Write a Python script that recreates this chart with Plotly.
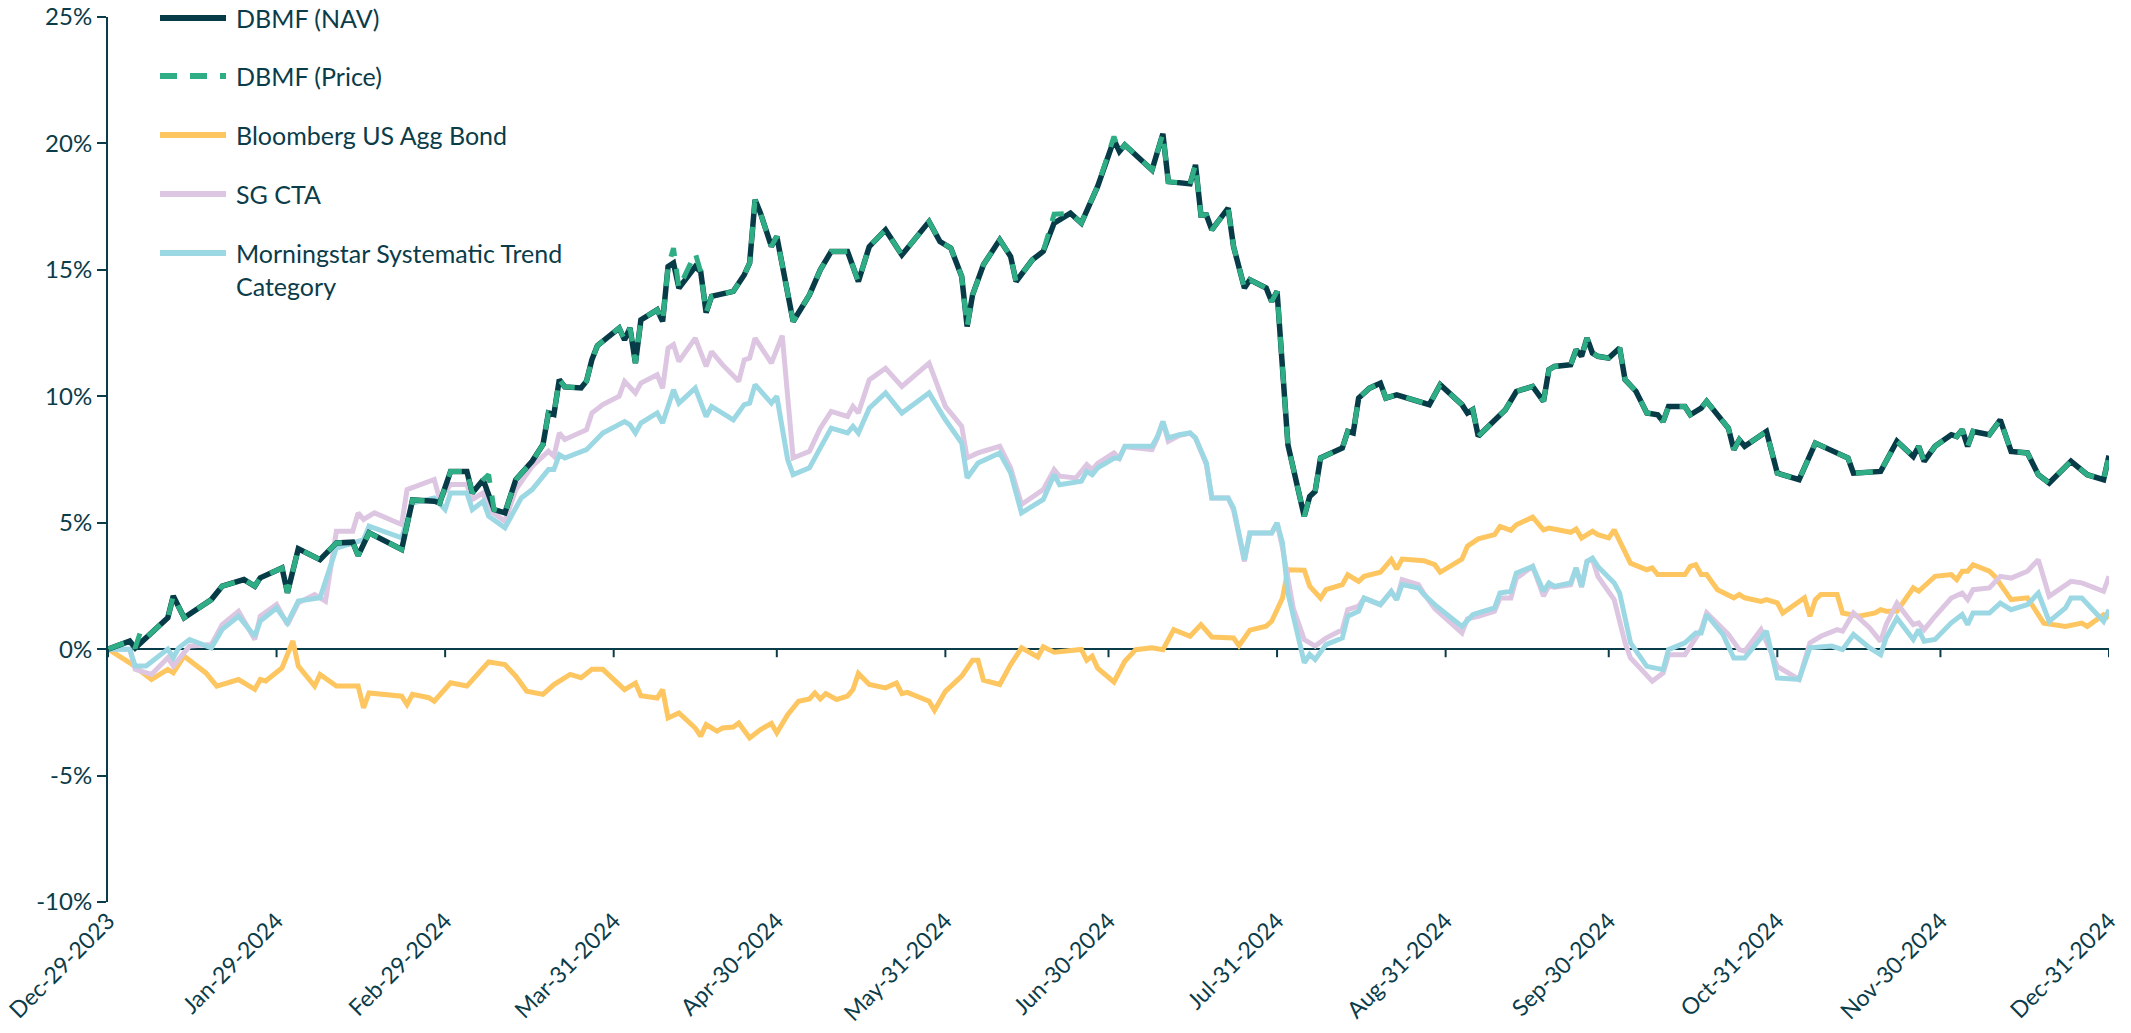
import pandas as pd
import plotly.graph_objects as go

START = "2023-12-29"

# ---- DBMF (NAV): day offset from Dec-29-2023, cumulative return (%)
nav_days = [0, 4, 5, 7, 11, 12, 14, 19, 21, 25, 27, 28, 32, 33, 35, 39, 42, 45, 46, 48, 54, 56, 60, 61, 63,
            66, 67, 69, 71, 73, 75, 78, 80, 81, 82, 83, 84, 87, 88, 89, 90, 94, 95, 96, 97, 98, 101, 102,
            103, 104, 105, 108, 109, 110, 111, 115, 117, 118, 119, 120, 122, 123, 125, 126, 129, 131, 133,
            136, 138, 140, 143, 146, 151, 153, 155, 157, 158, 159, 161, 164, 166, 167, 170, 172, 174, 177,
            179, 181, 182, 185, 186, 187, 192, 194, 195, 199, 200, 201, 202, 203, 206, 207, 208, 209, 210,
            213, 214, 215, 217, 220, 221, 222, 223, 227, 228, 229, 230, 232, 234, 235, 237, 243, 245, 249,
            250, 251, 252, 255, 257, 259, 262, 264, 265, 266, 269, 270, 271, 272, 273, 274, 276, 278, 279,
            281, 283, 285, 286, 287, 290, 291, 293, 294, 296, 298, 299, 300, 301, 305, 307, 311, 314, 318,
            320, 321, 326, 329, 332, 333, 334, 336, 339, 340, 341, 342, 343, 346, 348, 350, 353, 355, 357,
            361, 364, 367, 368]
nav_values = [0.0, 0.32, 0.05, 0.45, 1.24, 2.1, 1.24, 1.96, 2.49, 2.75, 2.49, 2.82, 3.21, 2.23, 3.97, 3.54,
              4.2, 4.23, 3.7, 4.6, 3.94, 5.9, 5.85, 5.78, 7.03, 7.03, 6.18, 6.7, 5.52, 5.39, 6.7, 7.43, 8.09,
              9.34, 9.28, 10.66, 10.37, 10.33, 10.6, 11.45, 12.0, 12.7, 12.23, 12.7, 11.31, 13.02, 13.42,
              12.96, 15.13, 15.27, 14.28, 15.13, 14.93, 13.31, 13.95, 14.15, 14.8, 15.27, 17.77, 17.24,
              15.93, 16.32, 14.08, 12.96, 14.01, 15.0, 15.73, 15.73, 14.54, 15.92, 16.58, 15.59, 16.91,
              16.12, 15.86, 14.74, 12.76, 14.01, 15.2, 16.19, 15.53, 14.54, 15.4, 15.73, 16.85, 17.24,
              16.85, 17.77, 18.3, 20.14, 19.68, 19.94, 18.95, 20.38, 18.49, 18.4, 19.15, 17.17, 17.17,
              16.58, 17.44, 15.92, 15.13, 14.28, 14.61, 14.28, 13.75, 14.15, 8.08, 5.25, 6.04, 6.24, 7.56,
              7.95, 8.61, 8.55, 9.93, 10.32, 10.52, 9.93, 10.06, 9.67, 10.46, 9.67, 9.34, 9.47, 8.42, 9.01,
              9.47, 10.19, 10.39, 9.8, 11.05, 11.18, 11.25, 11.84, 11.58, 12.3, 11.71, 11.58, 11.51, 11.91,
              10.66, 10.2, 9.34, 9.27, 9.0, 9.6, 9.6, 9.27, 9.53, 9.8, 9.27, 8.74, 7.89, 8.28, 8.02, 8.61,
              6.96, 6.7, 8.15, 7.76, 7.56, 6.96, 7.03, 8.22, 7.62, 8.02, 7.43, 8.02, 8.48, 8.41, 8.68, 8.02,
              8.61, 8.48, 9.07, 7.82, 7.76, 6.9, 6.57, 7.43, 6.9, 6.7, 7.65]

# ---- DBMF (Price): same path as NAV except where the market price visibly diverged
price_diffs = {6: 0.70, 70: 6.90, 104: 15.86, 108: 15.66, 174: 17.20, 185: 20.27}

# ---- Bloomberg US Agg Bond
agg_days = [0, 4, 8, 11, 12, 14, 18, 20, 24, 27, 28, 29, 32, 34, 35, 38, 39, 42, 46, 47, 48, 54, 55, 56,
            59, 60, 63, 66, 69, 70, 73, 75, 77, 80, 82, 85, 87, 89, 91, 95, 97, 98, 101, 102, 103, 105,
            108, 109, 110, 112, 113, 115, 116, 118, 120, 122, 123, 125, 127, 129, 130, 131, 132, 134, 136,
            137, 138, 140, 143, 145, 146, 147, 151, 152, 154, 157, 159, 160, 161, 164, 166, 168, 171, 172,
            174, 179, 180, 181, 182, 185, 187, 189, 192, 194, 196, 199, 201, 203, 207, 208, 210, 213, 214,
            216, 217, 220, 221, 223, 224, 227, 228, 230, 231, 234, 236, 237, 238, 242, 244, 245, 249, 250,
            252, 255, 256, 258, 259, 262, 264, 265, 269, 270, 271, 273, 274, 276, 277, 278, 280, 283, 284,
            285, 290, 291, 292, 293, 294, 296, 299, 300, 301, 304, 305, 307, 308, 312, 313, 314, 315, 318,
            319, 322, 325, 326, 327, 329, 332, 333, 336, 339, 340, 341, 342, 343, 346, 347, 350, 353, 354,
            356, 360, 363, 364, 367, 368]
agg_values = [0.0, -0.54, -1.2, -0.8, -0.94, -0.28, -0.94, -1.46, -1.2, -1.59, -1.2, -1.26, -0.74, 0.32,
              -0.67, -1.46, -1.0, -1.46, -1.46, -2.32, -1.73, -1.86, -2.19, -1.79, -1.92, -2.06, -1.33,
              -1.46, -0.74, -0.51, -0.61, -1.07, -1.66, -1.79, -1.4, -1.0, -1.13, -0.8, -0.8, -1.6, -1.34,
              -1.84, -1.93, -1.6, -2.72, -2.52, -3.12, -3.44, -2.98, -3.24, -3.12, -3.08, -2.92, -3.51,
              -3.18, -2.94, -3.31, -2.59, -2.06, -1.97, -1.73, -1.97, -1.76, -1.99, -1.86, -1.6, -0.96,
              -1.4, -1.53, -1.34, -1.76, -1.71, -2.06, -2.42, -1.67, -1.07, -0.44, -0.44, -1.23, -1.4,
              -0.61, 0.05, -0.31, 0.09, -0.12, -0.01, -0.44, -0.28, -0.75, -1.3, -0.48, -0.02, 0.05, -0.02,
              0.77, 0.51, 0.97, 0.48, 0.44, 0.14, 0.75, 0.91, 1.1, 2.02, 3.14, 3.12, 2.49, 2.02, 2.35, 2.55,
              2.94, 2.68, 2.88, 3.04, 3.54, 3.17, 3.56, 3.5, 3.34, 3.04, 3.56, 4.07, 4.36, 4.53, 4.85, 4.7,
              4.92, 5.22, 4.72, 4.79, 4.62, 4.75, 4.39, 4.66, 4.53, 4.4, 4.72, 4.26, 3.4, 3.14, 3.21, 2.95,
              2.95, 3.27, 3.34, 2.95, 2.95, 2.35, 2.03, 2.16, 2.03, 1.89, 1.96, 1.83, 1.43, 2.03, 1.3, 1.96,
              2.16, 2.16, 1.43, 1.3, 1.43, 1.56, 1.5, 1.5, 2.42, 2.29, 2.88, 2.95, 2.75, 3.08, 3.08, 3.34,
              3.08, 2.88, 1.96, 2.03, 1.69, 1.03, 0.9, 1.03, 0.9, 1.36, 1.23]

# ---- SG CTA
sg_days = [0, 4, 5, 8, 11, 12, 14, 15, 19, 21, 24, 27, 28, 31, 33, 35, 38, 40, 42, 45, 46, 47, 49, 54, 55,
           60, 61, 63, 66, 67, 69, 70, 73, 75, 78, 81, 82, 83, 84, 88, 89, 91, 94, 95, 97, 98, 101, 102,
           103, 104, 105, 108, 110, 111, 113, 116, 117, 118, 119, 122, 124, 126, 129, 131, 133, 136, 137,
           138, 140, 143, 146, 151, 154, 157, 158, 160, 164, 166, 168, 172, 174, 175, 178, 180, 181, 182,
           185, 186, 187, 192, 193, 194, 195, 197, 199, 200, 202, 203, 206, 207, 209, 210, 214, 215, 216,
           218, 220, 222, 224, 227, 228, 230, 231, 234, 236, 237, 238, 241, 242, 244, 249, 250, 252, 255,
           256, 258, 259, 262, 264, 265, 266, 269, 270, 271, 272, 273, 274, 277, 279, 280, 284, 286, 287,
           290, 293, 294, 298, 300, 301, 304, 307, 311, 313, 315, 318, 319, 321, 324, 326, 327, 329, 332,
           333, 334, 336, 339, 341, 342, 343, 346, 348, 350, 353, 355, 357, 361, 363, 367, 368]
sg_values = [0.0, 0.0, -0.8, -1.0, -0.34, -0.67, -0.14, 0.12, 0.18, 0.97, 1.5, 0.38, 1.3, 1.77, 0.97, 1.83,
             2.16, 1.9, 4.66, 4.66, 5.39, 5.13, 5.39, 4.93, 6.31, 6.71, 5.92, 6.51, 6.51, 5.92, 6.18, 5.52,
             5.06, 6.31, 7.23, 7.83, 7.63, 8.55, 8.29, 8.68, 9.34, 9.67, 10.0, 10.59, 10.13, 10.52, 10.85,
             10.32, 11.9, 12.04, 11.38, 12.3, 11.18, 11.77, 11.25, 10.59, 11.44, 11.51, 12.3, 11.31, 12.4,
             7.56, 7.82, 8.74, 9.4, 9.2, 9.6, 9.34, 10.65, 11.11, 10.39, 11.31, 9.6, 8.81, 7.56, 7.76, 8.02,
             7.17, 5.72, 6.31, 7.1, 6.84, 6.77, 7.3, 7.1, 7.35, 7.76, 7.55, 8.0, 7.89, 8.35, 9.0, 8.22, 8.45,
             8.55, 8.35, 7.3, 5.98, 5.98, 5.5, 3.47, 4.59, 4.59, 4.99, 4.0, 1.6, 0.38, 0.12, 0.44, 0.77,
             1.56, 1.7, 2.02, 1.76, 2.28, 1.96, 2.75, 2.55, 2.2, 1.6, 0.64, 1.2, 1.3, 1.5, 2.02, 2.02, 2.8,
             3.27, 2.1, 2.5, 2.45, 2.55, 3.21, 2.45, 3.47, 3.55, 2.88, 1.96, 0.25, -0.35, -1.27, -0.94,
             -0.22, -0.22, 0.77, 1.43, 0.58, -0.02, -0.08, 0.77, -0.68, -1.2, 0.25, 0.51, 0.77, 0.71, 1.43,
             0.84, 0.31, 0.97, 1.82, 0.97, 1.04, 0.77, 1.3, 2.02, 2.22, 1.96, 2.35, 2.42, 2.88, 2.81, 3.08,
             3.54, 2.09, 2.68, 2.62, 2.29, 2.88]

# ---- Morningstar Systematic Trend Category
ms_days = [0, 4, 5, 7, 11, 12, 13, 15, 19, 21, 24, 27, 28, 31, 33, 35, 39, 42, 47, 48, 54, 56, 60, 62, 63,
           66, 67, 69, 70, 73, 76, 78, 81, 82, 83, 84, 88, 91, 95, 96, 97, 98, 101, 102, 104, 105, 108,
           110, 111, 113, 115, 117, 118, 119, 122, 123, 125, 126, 129, 131, 133, 136, 137, 138, 140, 143,
           146, 151, 154, 157, 158, 160, 164, 166, 168, 172, 174, 175, 179, 180, 181, 182, 185, 186, 187,
           192, 193, 194, 195, 197, 199, 200, 202, 203, 206, 207, 209, 210, 214, 215, 216, 217, 220, 221,
           222, 224, 227, 228, 230, 231, 234, 236, 237, 238, 241, 242, 244, 249, 251, 252, 255, 256, 258,
           259, 262, 264, 265, 266, 269, 270, 271, 272, 273, 274, 277, 278, 280, 283, 286, 287, 290, 292,
           293, 294, 297, 299, 301, 305, 307, 311, 313, 317, 319, 321, 324, 326, 327, 329, 332, 333, 334,
           336, 339, 341, 342, 343, 346, 348, 350, 353, 355, 357, 360, 361, 363, 367, 368]
ms_values = [0.0, 0.0, -0.67, -0.67, 0.0, -0.34, 0.05, 0.38, 0.05, 0.78, 1.3, 0.51, 1.11, 1.63, 1.04, 1.9,
             2.03, 4.0, 4.33, 4.86, 4.4, 5.78, 5.98, 5.52, 6.18, 6.18, 5.52, 5.85, 5.26, 4.8, 5.98, 6.31,
             7.1, 7.1, 7.69, 7.56, 7.89, 8.55, 9.0, 8.87, 8.55, 8.94, 9.34, 8.94, 10.26, 9.73, 10.32, 9.2,
             9.6, 9.34, 9.07, 9.67, 9.73, 10.46, 9.73, 10.0, 7.49, 6.9, 7.17, 7.96, 8.74, 8.55, 8.81, 8.55,
             9.53, 10.13, 9.34, 10.13, 9.07, 8.15, 6.77, 7.36, 7.76, 6.97, 5.39, 5.92, 6.9, 6.5, 6.64, 7.03,
             6.9, 7.17, 7.55, 7.55, 8.02, 8.02, 8.41, 9.0, 8.35, 8.48, 8.55, 8.35, 7.36, 5.98, 5.98, 5.58,
             3.54, 4.59, 4.59, 4.99, 4.2, 2.22, -0.54, -0.21, -0.41, 0.18, 0.44, 1.3, 1.5, 2.02, 1.76, 2.28,
             1.96, 2.55, 2.42, 2.16, 1.76, 0.9, 1.36, 1.43, 1.63, 2.22, 2.29, 3.01, 3.27, 2.29, 2.62, 2.48,
             2.62, 3.21, 2.48, 3.47, 3.6, 3.27, 2.62, 2.22, 0.25, -0.68, -0.81, -0.02, 0.25, 0.64, 0.64,
             1.36, 0.58, -0.35, -0.35, 0.71, -1.14, -1.2, 0.05, 0.12, -0.02, 0.58, 0.05, -0.22, 0.44, 1.23,
             0.38, 0.77, 0.31, 0.38, 1.04, 1.37, 0.97, 1.43, 1.43, 1.82, 1.56, 1.76, 2.22, 1.1, 1.63, 2.02,
             2.02, 1.1, 1.56]

# ---- axis ticks
x_tick_dates = ["2023-12-29", "2024-01-29", "2024-02-29", "2024-03-31", "2024-04-30", "2024-05-31",
                "2024-06-30", "2024-07-31", "2024-08-31", "2024-09-30", "2024-10-31", "2024-11-30",
                "2024-12-31"]
y_ticks = [-10, -5, 0, 5, 10, 15, 20, 25]

series_names = ["DBMF (NAV)", "DBMF (Price)", "Bloomberg US Agg Bond", "SG CTA",
                "Morningstar Systematic Trend<br>Category"]

# ---- styles
TEXT = "#0B3C49"
C_NAV = "#063B47"
C_PRICE = "#2FAE86"
C_AGG = "#FDC660"
C_SG = "#DDC6E1"
C_MS = "#9CD8E3"
FONT = "Lato"
DASH = "17px,13px"


def to_dates(days):
    return pd.Timestamp(START) + pd.to_timedelta(days, unit="D")


price_map = dict(zip(nav_days, nav_values))
price_map.update(price_diffs)
price_days = sorted(price_map)
price_values = [price_map[d] for d in price_days]

fig = go.Figure()
fig.add_trace(go.Scatter(x=to_dates(agg_days), y=agg_values, mode="lines", name=series_names[2],
                         line=dict(color=C_AGG, width=5), showlegend=False))
fig.add_trace(go.Scatter(x=to_dates(sg_days), y=sg_values, mode="lines", name=series_names[3],
                         line=dict(color=C_SG, width=5), showlegend=False))
fig.add_trace(go.Scatter(x=to_dates(ms_days), y=ms_values, mode="lines", name=series_names[4],
                         line=dict(color=C_MS, width=5), showlegend=False))
fig.add_trace(go.Scatter(x=to_dates(nav_days), y=nav_values, mode="lines", name=series_names[0],
                         line=dict(color=C_NAV, width=5.5), showlegend=False))
fig.add_trace(go.Scatter(x=to_dates(price_days), y=price_values, mode="lines", name=series_names[1],
                         line=dict(color=C_PRICE, width=5, dash=DASH), showlegend=False))

W, H = 2131, 1033
PL, PR, PT, PB = 108, 2109, 17, 902          # plot-area edges in window pixels
ML, MT = PL, PT
MR, MB = W - PR, H - PB
pw, ph = W - ML - MR, H - MT - MB


def px_x(p):
    return (p - PL) / pw


def px_y(p):
    return (PB - p) / ph


shapes = []
# tick marks hanging below the zero line
for d in x_tick_dates:
    shapes.append(dict(type="line", xref="x", yref="y", x0=d, x1=d, y0=0, y1=-0.32,
                       line=dict(color=TEXT, width=2)))

# manual legend (line sample + label)
legend_items = [
    (series_names[0], C_NAV, "solid", 18),
    (series_names[1], C_PRICE, DASH, 76),
    (series_names[2], C_AGG, "solid", 135),
    (series_names[3], C_SG, "solid", 194),
    (series_names[4], C_MS, "solid", 253),
]
annotations = []
for name, col, dash, yp in legend_items:
    shapes.append(dict(type="line", xref="paper", yref="paper", x0=px_x(160), x1=px_x(226),
                       y0=px_y(yp), y1=px_y(yp), line=dict(color=col, width=6, dash=dash)))
    if "<br>" in name:
        annotations.append(dict(xref="paper", yref="paper", x=px_x(234), y=px_y(yp - 17), text=name,
                                showarrow=False, xanchor="left", yanchor="top", align="left",
                                font=dict(family=FONT, size=25, color=TEXT)))
    else:
        annotations.append(dict(xref="paper", yref="paper", x=px_x(234), y=px_y(yp), text=name,
                                showarrow=False, xanchor="left", yanchor="middle", align="left",
                                font=dict(family=FONT, size=25, color=TEXT)))

fig.update_layout(
    width=W, height=H,
    margin=dict(l=ML, r=MR, t=MT, b=MB, pad=0, autoexpand=False),
    paper_bgcolor="white", plot_bgcolor="white",
    font=dict(family=FONT, size=20, color=TEXT),
    shapes=shapes, annotations=annotations,
    showlegend=False,
)
fig.update_xaxes(
    type="date", range=[x_tick_dates[0], x_tick_dates[-1]],
    tickvals=x_tick_dates,
    ticktext=[pd.Timestamp(d).strftime("%b-%d-%Y") for d in x_tick_dates],
    tickangle=-45, showgrid=False, showline=False, ticks="", zeroline=False, automargin=False,
    ticklabeloverflow="allow",
    tickfont=dict(family=FONT, size=23, color=TEXT),
)
fig.update_yaxes(
    range=[-10, 25], tickvals=y_ticks, ticktext=[f"{v}%" for v in y_ticks],
    showgrid=False, showline=True, linecolor=TEXT, linewidth=2, automargin=False,
    ticklabeloverflow="allow",
    ticks="outside", ticklen=9, tickwidth=2, tickcolor=TEXT,
    zeroline=True, zerolinecolor=TEXT, zerolinewidth=2,
    tickfont=dict(family=FONT, size=24, color=TEXT),
)

# remove the browser's default 8px page margin so the figure fills the window exactly
fig.write_html("out.html", config={"displayModeBar": False},
               post_script="document.body.style.margin='0';document.body.style.overflow='hidden';")
